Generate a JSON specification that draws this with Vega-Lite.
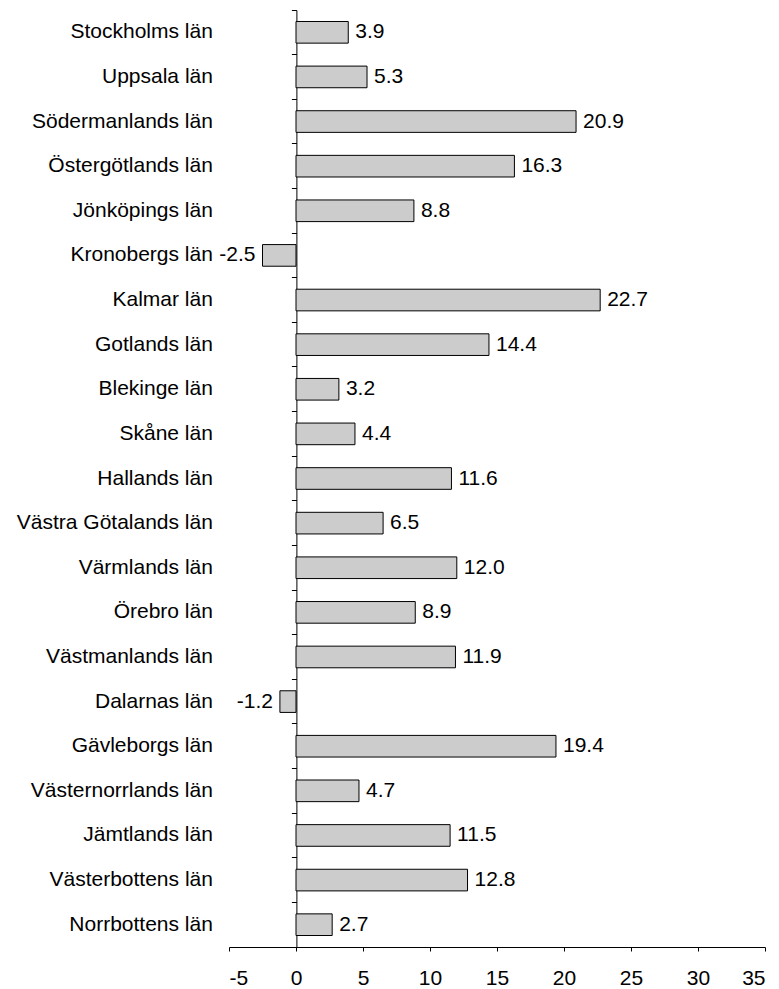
{
  "$schema": "https://vega.github.io/schema/vega-lite/v6.json",
  "width": 536,
  "height": 937,
  "autosize": {"type": "none"},
  "padding": {"left": 229, "top": 10, "right": 14, "bottom": 42},
  "background": "white",
  "config": {
    "view": {"stroke": null},
    "font": "Liberation Sans",
    "locale": {"number": {"decimal": ".", "thousands": ",", "grouping": [3], "currency": ["$", ""], "minus": "-"}},
    "axis": {"grid": false, "domainColor": "#000", "tickColor": "#000", "labelColor": "#000", "labelFont": "Liberation Sans", "labelFontSize": 21, "domainWidth": 1, "tickWidth": 1, "labelLimit": 0}
  },
  "data": {
    "values": [
      {"lan": "Stockholms län", "v": 3.9},
      {"lan": "Uppsala län", "v": 5.3},
      {"lan": "Södermanlands län", "v": 20.9},
      {"lan": "Östergötlands län", "v": 16.3},
      {"lan": "Jönköpings län", "v": 8.8},
      {"lan": "Kronobergs län", "v": -2.5},
      {"lan": "Kalmar län", "v": 22.7},
      {"lan": "Gotlands län", "v": 14.4},
      {"lan": "Blekinge län", "v": 3.2},
      {"lan": "Skåne län", "v": 4.4},
      {"lan": "Hallands län", "v": 11.6},
      {"lan": "Västra Götalands län", "v": 6.5},
      {"lan": "Värmlands län", "v": 12.0},
      {"lan": "Örebro län", "v": 8.9},
      {"lan": "Västmanlands län", "v": 11.9},
      {"lan": "Dalarnas län", "v": -1.2},
      {"lan": "Gävleborgs län", "v": 19.4},
      {"lan": "Västernorrlands län", "v": 4.7},
      {"lan": "Jämtlands län", "v": 11.5},
      {"lan": "Västerbottens län", "v": 12.8},
      {"lan": "Norrbottens län", "v": 2.7}
    ]
  },
  "encoding": {
    "y": {
      "field": "lan", "type": "nominal", "sort": null,
      "scale": {"paddingInner": 0, "paddingOuter": 0},
      "axis": {"title": null, "orient": "left", "offset": -67.4, "tickSize": 5, "labelPadding": 79, "bandPosition": 0, "labelLimit": 0}
    },
    "x": {
      "field": "v", "type": "quantitative",
      "scale": {"domain": [-5, 35], "nice": false, "zero": false},
      "axis": {"title": null, "values": [-5, 0, 5, 10, 15, 20, 25, 30, 35], "tickSize": 4, "labelPadding": 16, "format": "d"}
    }
  },
  "layer": [
    {
      "mark": {"type": "bar", "fill": "#cccccc", "stroke": "#000", "strokeWidth": 1, "height": {"band": 0.485}}
    },
    {
      "transform": [{"filter": "datum.v >= 0"}],
      "mark": {"type": "text", "align": "left", "baseline": "middle", "dx": 7, "fontSize": 21, "font": "Liberation Sans", "color": "#000"},
      "encoding": {"text": {"field": "v", "type": "quantitative", "format": ".1f"}}
    },
    {
      "transform": [{"filter": "datum.v < 0"}],
      "mark": {"type": "text", "align": "right", "baseline": "middle", "dx": -7, "fontSize": 21, "font": "Liberation Sans", "color": "#000"},
      "encoding": {"text": {"field": "v", "type": "quantitative", "format": ".1f"}}
    }
  ]
}
